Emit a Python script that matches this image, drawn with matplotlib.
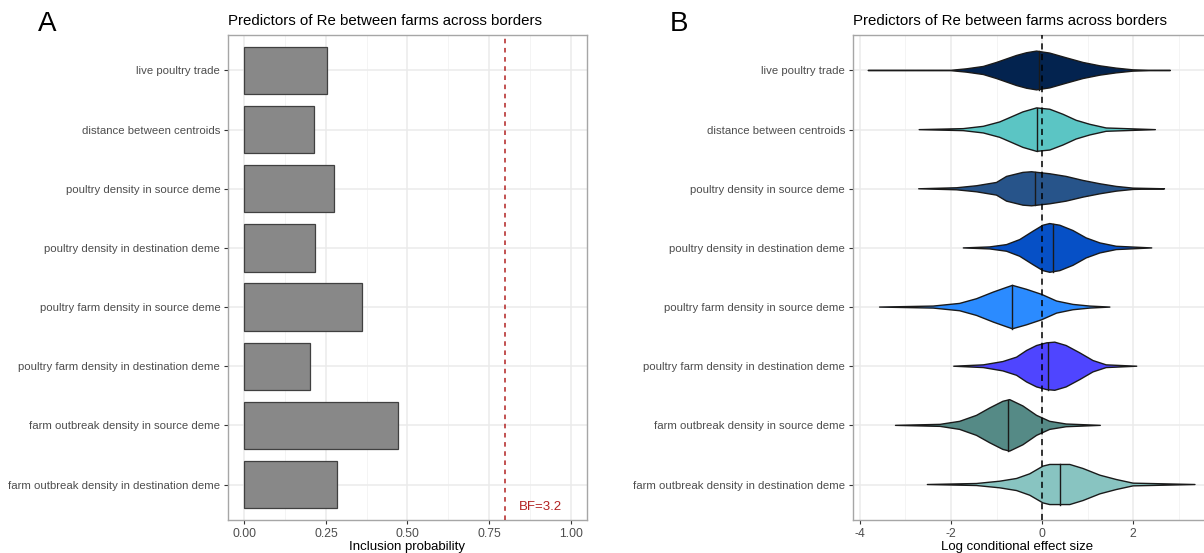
import numpy as np
import matplotlib
matplotlib.use("Agg")
import matplotlib.pyplot as plt
from matplotlib.ticker import MultipleLocator

plt.rcParams['font.family'] = ['Liberation Sans', 'DejaVu Sans']
plt.rcParams['axes.unicode_minus'] = False

# predictors, top to bottom
predictors = ["live poultry trade", "distance between centroids",
              "poultry density in source deme", "poultry density in destination deme",
              "poultry farm density in source deme", "poultry farm density in destination deme",
              "farm outbreak density in source deme", "farm outbreak density in destination deme"]

# panel A: inclusion probabilities
inclusion = [0.254, 0.214, 0.275, 0.217, 0.361, 0.202, 0.471, 0.284]
bf_cutoff = 0.80

# panel B: violin outlines (x = log effect, hw = half width)
violin_x = [
    [-3.82, -2.0, -1.66, -1.29, -1.0, -0.78, -0.56, -0.34, -0.12, 0.17, 0.53, 0.90, 1.27, 1.63, 2.0, 2.36, 2.82],
    [-2.70, -1.73, -1.29, -0.93, -0.71, -0.42, -0.12, 0.17, 0.46, 0.75, 1.05, 1.41, 2.49],
    [-2.71, -1.88, -1.44, -1.0, -0.78, -0.42, -0.23, 0.17, 0.53, 0.90, 1.27, 1.63, 2.0, 2.69],
    [-1.73, -1.15, -0.78, -0.49, -0.20, 0.02, 0.17, 0.39, 0.68, 0.97, 1.27, 1.63, 2.41],
    [-3.57, -2.39, -1.81, -1.44, -1.07, -0.78, -0.65, -0.34, -0.01, 0.32, 0.68, 1.05, 1.49],
    [-1.94, -1.29, -0.86, -0.56, -0.34, -0.12, 0.10, 0.28, 0.53, 0.83, 1.12, 1.41, 2.08],
    [-3.22, -2.24, -1.81, -1.44, -1.15, -0.86, -0.71, -0.42, -0.12, 0.17, 0.53, 1.28],
    [-2.52, -1.44, -0.93, -0.56, -0.27, 0.02, 0.17, 0.61, 0.90, 1.27, 1.63, 2.0, 3.36],
]
violin_hw = [
    [0, 0.003, 0.028, 0.068, 0.136, 0.195, 0.254, 0.300, 0.328, 0.294, 0.215, 0.136, 0.079, 0.040, 0.011, 0.003, 0],
    [0, 0.017, 0.056, 0.130, 0.203, 0.300, 0.367, 0.345, 0.260, 0.158, 0.090, 0.028, 0],
    [0, 0.017, 0.051, 0.107, 0.209, 0.277, 0.288, 0.254, 0.209, 0.141, 0.085, 0.040, 0.011, 0],
    [0, 0.017, 0.056, 0.141, 0.282, 0.384, 0.412, 0.384, 0.294, 0.169, 0.085, 0.028, 0],
    [0, 0.017, 0.062, 0.141, 0.254, 0.333, 0.367, 0.300, 0.215, 0.102, 0.045, 0.017, 0],
    [0, 0.023, 0.079, 0.153, 0.266, 0.350, 0.395, 0.407, 0.350, 0.226, 0.096, 0.023, 0],
    [0, 0.017, 0.068, 0.169, 0.294, 0.407, 0.435, 0.328, 0.169, 0.068, 0.023, 0],
    [0, 0.017, 0.056, 0.102, 0.181, 0.311, 0.339, 0.339, 0.271, 0.158, 0.085, 0.023, 0],
]
medians = [-0.07, -0.10, -0.15, 0.23, -0.65, 0.12, -0.75, 0.39]
colors = ["#03234F", "#5BC5C4", "#27548A", "#0650C6",
          "#2B8BFF", "#4F45FF", "#558A86", "#88C4C1"]

fig = plt.figure(figsize=(12.04, 5.53), dpi=100)
axA = fig.add_axes([228/1204, 1-520/553, (587-228)/1204, 485/553])
axB = fig.add_axes([852.7/1204, 1-520/553, (1210-852.7)/1204, 485/553])

ypos = np.arange(len(predictors))[::-1] + 1  # top row highest

def style(ax):
    ax.set_facecolor("white")
    for s in ax.spines.values():
        s.set_color("#A6A6A6")
        s.set_linewidth(1.0)
    ax.grid(which="major", color="#EBEBEB", linewidth=1.1, zorder=0)
    ax.grid(which="minor", axis="x", color="#F2F2F2", linewidth=0.6, zorder=0)
    ax.set_axisbelow(True)
    ax.tick_params(which="major", length=3, color="#333333", labelsize=8.2,
                   labelcolor="#4D4D4D", pad=2.5)
    ax.tick_params(axis="x", labelsize=8.8)
    ax.tick_params(which="minor", length=0)
    ax.set_ylim(0.4, len(predictors) + 0.6)
    ax.set_yticks(ypos)
    ax.set_yticklabels(predictors)

def xlab(ax, text, xfrac):
    ax.set_xlabel(text, fontsize=9.5)
    ax.xaxis.set_label_coords(xfrac, -27/485)
    ax.xaxis.label.set_va("center")

# panel A
style(axA)
axA.barh(ypos, inclusion, height=0.8, color="#888888", edgecolor="#404040",
         linewidth=0.9, zorder=2)
axA.axvline(bf_cutoff, color="#B22222", linestyle=(0, (3, 3)), linewidth=1.1, zorder=3)
axA.text(bf_cutoff + 0.04, 0.52, "BF=3.2", color="#B22222", fontsize=9.5,
         ha="left", va="bottom")
axA.set_xlim(-0.05, 1.05)
axA.set_xticks([0, 0.25, 0.5, 0.75, 1.0])
axA.set_xticklabels(["0.00", "0.25", "0.50", "0.75", "1.00"])
axA.xaxis.set_minor_locator(MultipleLocator(0.125))
xlab(axA, "Inclusion probability", 0.5)
axA.set_title("Predictors of Re between farms across borders", loc="left",
              fontsize=10.8, pad=7)

# panel B
style(axB)
for i in range(len(predictors)):
    x = np.array(violin_x[i])
    hw = np.array(violin_hw[i])
    y0 = ypos[i]
    xs = np.concatenate([x, x[::-1]])
    ys = np.concatenate([y0 + hw, (y0 - hw)[::-1]])
    axB.fill(xs, ys, facecolor=colors[i], edgecolor="#1A1A1A", linewidth=1.0,
             joinstyle="round", zorder=2)
    h = np.interp(medians[i], x, hw)
    axB.plot([medians[i], medians[i]], [y0 - h, y0 + h], color="#1A1A1A",
             linewidth=1.0, zorder=3)
axB.axvline(0, color="black", linestyle=(0, (4, 3)), linewidth=1.1, zorder=4)
axB.set_xlim(-4.16, 3.69)
axB.set_xticks([-4, -2, 0, 2])
axB.xaxis.set_minor_locator(MultipleLocator(1))
xlab(axB, "Log conditional effect size", 0.46)
axB.set_title("Predictors of Re between farms across borders", loc="left",
              fontsize=10.8, pad=7)

fig.text(38/1204, 1-24/553, "A", fontsize=20, va="center", ha="left")
fig.text(670/1204, 1-24/553, "B", fontsize=20, va="center", ha="left")

fig.savefig("out.png", dpi=100)
